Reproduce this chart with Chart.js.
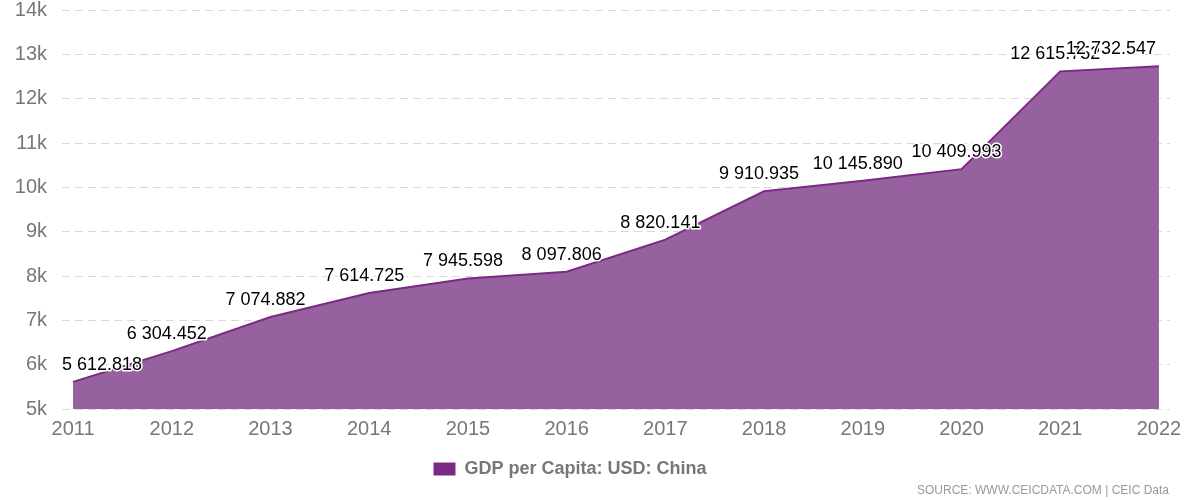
<!DOCTYPE html>
<html><head><meta charset="utf-8">
<script src="https://cdn.jsdelivr.net/npm/chart.js@4.4.1/dist/chart.umd.min.js"></script>
<style>html,body{margin:0;padding:0;background:#fff;}#wrap{width:1200px;height:500px;position:relative;}</style>
</head><body>
<div id="wrap"><canvas id="c" width="1200" height="500"></canvas></div>
<script>
const years = [2011, 2012, 2013, 2014, 2015, 2016, 2017, 2018, 2019, 2020, 2021, 2022];
const gdpPerCapita = [5612.818, 6304.452, 7074.882, 7614.725, 7945.598, 8097.806, 8820.141, 9910.935, 10145.890, 10409.993, 12615.752, 12732.547];
const seriesName = 'GDP per Capita: USD: China';
const yTicks = [5000, 6000, 7000, 8000, 9000, 10000, 11000, 12000, 13000, 14000];
const sourceText = 'SOURCE: WWW.CEICDATA.COM | CEIC Data';

function fmt(v){
  const s = v.toFixed(3);
  const [i,d] = s.split('.');
  return i.replace(/\B(?=(\d{3})+(?!\d))/g, ' ') + '.' + d;
}

const labelPlugin = {
  id: 'valueLabels',
  afterDatasetsDraw(chart){
    const ctx = chart.ctx, area = chart.chartArea;
    const meta = chart.getDatasetMeta(0);
    ctx.save();
    ctx.font = '18px "Liberation Sans", Arial, sans-serif';
    ctx.textAlign = 'center';
    ctx.textBaseline = 'middle';
    ctx.lineJoin = 'round';
    meta.data.forEach((pt, i) => {
      const txt = fmt(gdpPerCapita[i]);
      const w = ctx.measureText(txt).width;
      let x = pt.x - 5;
      if (x - w/2 < area.left) x = area.left + w/2;
      if (x + w/2 > area.right - 14) x = area.right - 14 - w/2;
      const y = pt.y - 17;
      ctx.strokeStyle = '#ffffff';
      ctx.lineWidth = 3;
      ctx.strokeText(txt, x, y);
      ctx.fillStyle = '#000000';
      ctx.fillText(txt, x, y);
    });
    ctx.restore();
  }
};

const sourcePlugin = {
  id: 'sourceText',
  afterLayout(chart){
    const lg = chart.legend;
    if (lg) { lg.left -= 15; lg.right -= 15; }
  },
  afterDraw(chart){
    const ctx = chart.ctx;
    ctx.save();
    ctx.font = '12px "Liberation Sans", Arial, sans-serif';
    ctx.fillStyle = '#999999';
    ctx.textAlign = 'right';
    ctx.textBaseline = 'middle';
    ctx.fillText(sourceText, 1169, 491);
    ctx.restore();
  }
};

new Chart(document.getElementById('c'), {
  type: 'line',
  data: {
    datasets: [{
      label: seriesName,
      data: years.map((y, i) => ({x: y, y: gdpPerCapita[i]})),
      borderColor: '#7b2a84',
      backgroundColor: '#97609f',
      borderWidth: 2,
      fill: 'start',
      pointRadius: 0,
      tension: 0
    }]
  },
  options: {
    responsive: false,
    animation: false,
    layout: { padding: { left: 0, right: 30, top: 10, bottom: 12 } },
    plugins: {
      legend: {
        position: 'bottom',
        labels: {
          boxWidth: 22, boxHeight: 13,
          color: '#777777',
          font: { family: '"Liberation Sans", Arial, sans-serif', size: 18, weight: 'bold' },
          padding: 10,
          generateLabels: (chart) => [{ text: seriesName, fillStyle: '#7b2a84', strokeStyle: '#7b2a84', fontColor: '#777777', lineWidth: 0, datasetIndex: 0 }]
        }
      },
      tooltip: { enabled: false }
    },
    scales: {
      x: {
        type: 'linear',
        min: years[0] - 0.112,
        max: years[years.length - 1] + 0.112,
        afterBuildTicks: (s) => { s.ticks = years.map(v => ({value: v})); },
        afterFit: (s) => { s.height = 41; },
        grid: { display: false },
        border: { display: false },
        ticks: {
          color: '#777777',
          font: { family: '"Liberation Sans", Arial, sans-serif', size: 20 },
          padding: 0,
          maxRotation: 0,
          autoSkip: false,
          callback: (v) => String(v)
        }
      },
      y: {
        min: yTicks[0],
        max: yTicks[yTicks.length - 1],
        afterBuildTicks: (s) => { s.ticks = yTicks.map(v => ({value: v})); },
        afterFit: (s) => { s.width = 62; s.paddingTop = 0; s.paddingBottom = 0; },
        grid: { color: '#d9d9d9', lineWidth: 1, drawTicks: false },
        border: { display: false, dash: [8, 5] },
        ticks: {
          color: '#777777',
          font: { family: '"Liberation Sans", Arial, sans-serif', size: 20 },
          padding: 15,
          callback: (v) => (v / 1000) + 'k'
        }
      }
    }
  },
  plugins: [labelPlugin, sourcePlugin]
});
</script>
</body></html>
